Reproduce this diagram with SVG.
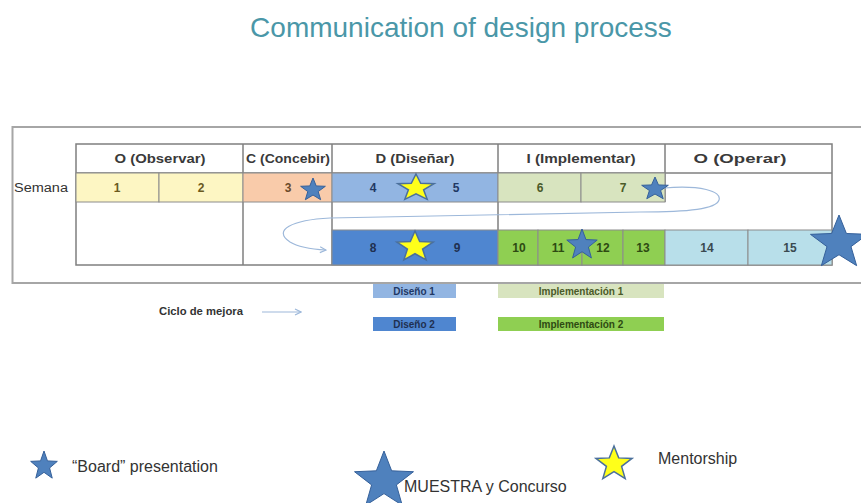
<svg xmlns="http://www.w3.org/2000/svg" xmlns:xlink="http://www.w3.org/1999/xlink" width="861" height="503" viewBox="0 0 861 503">
<style>
  .hdr{font-family:"Liberation Sans",Arial,sans-serif;font-weight:bold;font-size:12.5px;fill:#3a3a3a;text-anchor:middle}
  .num{font-family:"Liberation Sans",Arial,sans-serif;font-weight:bold;font-size:12px;text-anchor:middle}
  .cell{stroke:#8c8c8c;stroke-width:1}
  .grid{stroke:#7f7f7f;stroke-width:1.5;fill:none}
  .bstar{fill:#4f81bd;stroke:#35609a;stroke-width:1}
  .ystar{fill:#ffff1a;stroke:#4a6f9c;stroke-width:1.5}
  .leg{font-family:"Liberation Sans",Arial,sans-serif;font-size:16px;fill:#333}
  .lbox{font-family:"Liberation Sans",Arial,sans-serif;font-weight:bold;font-size:10px;text-anchor:middle}
  .conn{fill:none;stroke:#9db8da;stroke-width:1.2}
</style>
<defs>
  <polygon id="star" vector-effect="non-scaling-stroke" points="0,-1 0.2469,-0.3398 0.9511,-0.309 0.3995,0.1298 0.5878,0.809 0,0.42 -0.5878,0.809 -0.3995,0.1298 -0.9511,-0.309 -0.2469,-0.3398"/>
  <marker id="arr" markerWidth="8" markerHeight="8" refX="7" refY="4" orient="auto" markerUnits="userSpaceOnUse">
    <path d="M1,1 L7,4 L1,7" fill="none" stroke="#9db8da" stroke-width="1.2"/>
  </marker>
</defs>
<rect width="861" height="503" fill="#ffffff"/>

<g id="title">
  <text x="461" y="37" font-family="'Liberation Sans',Arial,sans-serif" font-size="28" fill="#4a97a8" text-anchor="middle">Communication of design process</text>
</g>

<!-- outer frame -->
<g id="frame">
  <path d="M870,127 L12.5,127 L12.5,283 L870,283" fill="none" stroke="#a6a6a6" stroke-width="2"/>
</g>

<g id="semana">
  <text x="14" y="192" font-family="'Liberation Sans',Arial,sans-serif" font-size="12" fill="#333" textLength="54" lengthAdjust="spacingAndGlyphs">Semana</text>
</g>

<g id="table">
  <rect x="76" y="144" width="756" height="121" fill="#ffffff" class="grid"/>
  <line x1="76" y1="173" x2="832" y2="173" class="grid"/>
  <line x1="243" y1="144" x2="243" y2="265" class="grid"/>
  <line x1="332" y1="144" x2="332" y2="265" class="grid"/>
  <line x1="498" y1="144" x2="498" y2="265" class="grid"/>
  <line x1="665" y1="144" x2="665" y2="202" class="grid"/>
</g>

<g id="hdr-observar"><text x="160" y="163" class="hdr" textLength="91" lengthAdjust="spacingAndGlyphs">O (Observar)</text></g>
<g id="hdr-concebir"><text x="288" y="163" class="hdr" textLength="84" lengthAdjust="spacingAndGlyphs">C (Concebir)</text></g>
<g id="hdr-disenar"><text x="415" y="163" class="hdr" textLength="79" lengthAdjust="spacingAndGlyphs">D (Diseñar)</text></g>
<g id="hdr-implementar"><text x="581" y="163" class="hdr" textLength="109" lengthAdjust="spacingAndGlyphs">I (Implementar)</text></g>
<g id="hdr-operar"><text x="740" y="163" class="hdr" textLength="93" lengthAdjust="spacingAndGlyphs">O (Operar)</text></g>

<!-- row 1 -->
<g id="w1"><rect x="76" y="173" width="83" height="29" fill="#fdf6c3" class="cell"/><text x="117" y="192" class="num" fill="#6b5a1e">1</text></g>
<g id="w2"><rect x="159" y="173" width="84" height="29" fill="#fdf6c3" class="cell"/><text x="201" y="192" class="num" fill="#6b5a1e">2</text></g>
<g id="w3"><rect x="243" y="173" width="89" height="29" fill="#f9cbaa" class="cell"/><text x="288" y="192" class="num" fill="#6b4a2a">3</text></g>
<g id="w4-5"><rect x="332" y="173" width="166" height="29" fill="#92b5e2" class="cell"/><text x="373" y="192" class="num" fill="#1f3864">4</text><text x="456" y="192" class="num" fill="#1f3864">5</text></g>
<g id="w6"><rect x="498" y="173" width="83" height="29" fill="#d8e4bf" class="cell"/><text x="540" y="192" class="num" fill="#4a5a28">6</text></g>
<g id="w7"><rect x="581" y="173" width="84" height="29" fill="#d8e4bf" class="cell"/><text x="623" y="192" class="num" fill="#4a5a28">7</text></g>

<!-- row 2 -->
<g id="w8-9"><rect x="332" y="230" width="166" height="35" fill="#4f86d0" class="cell"/><text x="373" y="252" class="num" fill="#1f3050">8</text><text x="457" y="252" class="num" fill="#1f3050">9</text></g>
<g id="w10"><rect x="498" y="230" width="40" height="35" fill="#8fcf52" class="cell"/><text x="519" y="252" class="num" fill="#2e4a12">10</text></g>
<g id="w11"><rect x="538" y="230" width="44" height="35" fill="#8fcf52" class="cell"/><text x="558" y="252" class="num" fill="#2e4a12">11</text></g>
<g id="w12"><rect x="582" y="230" width="41" height="35" fill="#8fcf52" class="cell"/><text x="603" y="252" class="num" fill="#2e4a12">12</text></g>
<g id="w13"><rect x="623" y="230" width="42" height="35" fill="#8fcf52" class="cell"/><text x="643" y="252" class="num" fill="#2e4a12">13</text></g>
<g id="w14"><rect x="665" y="230" width="83" height="35" fill="#b8dfea" class="cell"/><text x="707" y="252" class="num" fill="#3a4a50">14</text></g>
<g id="w15"><rect x="748" y="230" width="84" height="35" fill="#b8dfea" class="cell"/><text x="790" y="252" class="num" fill="#3a4a50">15</text></g>

<!-- connectors -->
<g id="connectors">
  <path class="conn" marker-end="url(#arr)" d="M664,188 C700,185 722,191 719,200 C716,209 690,212 640,212 L330,218 C292,220 272,230 290,242 C298,247 308,249 326,250"/>
  <line class="conn" x1="262" y1="312" x2="301" y2="312" marker-end="url(#arr)"/>
</g>

<!-- stars on table -->
<g id="star-3"><use xlink:href="#star" class="bstar" transform="translate(313,190) scale(13,12)"/></g>
<g id="star-4-5"><use xlink:href="#star" class="ystar" transform="translate(416,188) scale(19,14)"/></g>
<g id="star-7"><use xlink:href="#star" class="bstar" transform="translate(655,189) scale(14,12)"/></g>
<g id="star-8-9"><use xlink:href="#star" class="ystar" transform="translate(415,247) scale(19,16)"/></g>
<g id="star-11-12"><use xlink:href="#star" class="bstar" transform="translate(582,245) scale(16,16)"/></g>
<g id="star-15"><use xlink:href="#star" class="bstar" transform="translate(839,243) scale(30,28)"/></g>

<!-- legend -->
<g id="ciclo"><text x="159" y="315" font-family="'Liberation Sans',Arial,sans-serif" font-weight="bold" font-size="10" fill="#333" textLength="84" lengthAdjust="spacingAndGlyphs">Ciclo de mejora</text></g>
<g id="leg-diseno1"><rect x="373" y="284" width="83" height="14" fill="#92b5e2"/><text x="414" y="295" class="lbox" fill="#1f3864">Diseño 1</text></g>
<g id="leg-impl1"><rect x="498" y="284" width="166" height="14" fill="#d8e4bf"/><text x="581" y="295" class="lbox" fill="#4a5a28">Implementación 1</text></g>
<g id="leg-diseno2"><rect x="373" y="317" width="83" height="14" fill="#4f86d0"/><text x="414" y="328" class="lbox" fill="#1f3050">Diseño 2</text></g>
<g id="leg-impl2"><rect x="498" y="317" width="166" height="14" fill="#8fcf52"/><text x="581" y="328" class="lbox" fill="#2e4a12">Implementación 2</text></g>

<g id="leg-board">
  <use xlink:href="#star" class="bstar" transform="translate(44,466) scale(14,15)"/>
  <text x="72" y="472" class="leg">“Board” presentation</text>
</g>
<g id="leg-muestra">
  <use xlink:href="#star" class="bstar" transform="translate(384,481) scale(31,30)"/>
  <text x="404" y="492" class="leg">MUESTRA y Concurso</text>
</g>
<g id="leg-mentor">
  <use xlink:href="#star" class="ystar" transform="translate(614,464) scale(19,18)"/>
  <text x="658" y="464" class="leg">Mentorship</text>
</g>
</svg>
